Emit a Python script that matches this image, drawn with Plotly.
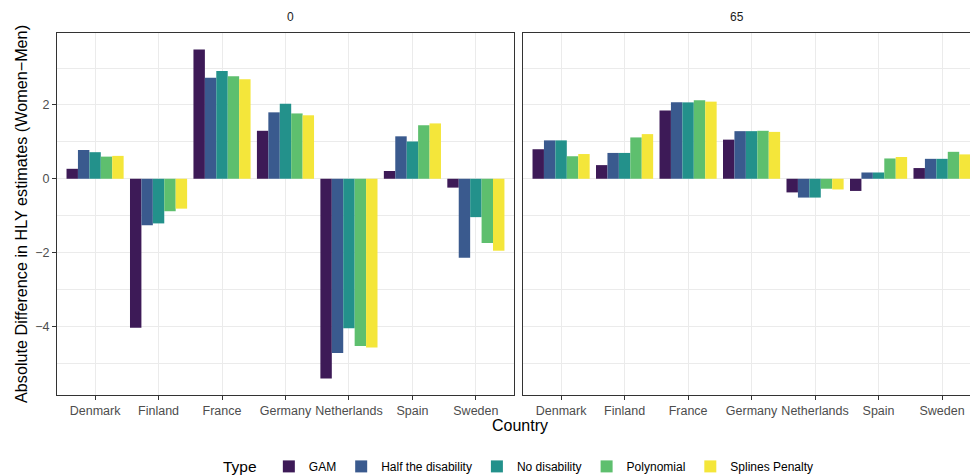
import plotly.graph_objects as go

countries = ["Denmark", "Finland", "France", "Germany", "Netherlands", "Spain", "Sweden"]
types = ["GAM", "Half the disability", "No disability", "Polynomial", "Splines Penalty"]
colors = ["#3D1A57", "#3A5A8E", "#23918B", "#5EBF6E", "#F4E63A"]

# Age 0 differences (Women - Men)
age0_gam = [0.27, -4.04, 3.50, 1.30, -5.41, 0.21, -0.24]
age0_half = [0.78, -1.26, 2.74, 1.80, -4.72, 1.15, -2.14]
age0_nodis = [0.72, -1.21, 2.92, 2.03, -4.05, 1.01, -1.04]
age0_poly = [0.60, -0.88, 2.78, 1.77, -4.53, 1.45, -1.74]
age0_spl = [0.62, -0.81, 2.70, 1.72, -4.57, 1.50, -1.95]

# Age 65 differences (Women - Men)
age65_gam = [0.80, 0.37, 1.85, 1.06, -0.37, -0.33, 0.29]
age65_half = [1.04, 0.70, 2.07, 1.29, -0.51, 0.17, 0.54]
age65_nodis = [1.04, 0.70, 2.07, 1.29, -0.51, 0.17, 0.54]
age65_poly = [0.61, 1.12, 2.13, 1.30, -0.27, 0.55, 0.73]
age65_spl = [0.67, 1.21, 2.09, 1.27, -0.29, 0.59, 0.66]

panels = {
    "0": [age0_gam, age0_half, age0_nodis, age0_poly, age0_spl],
    "65": [age65_gam, age65_half, age65_nodis, age65_poly, age65_spl],
}

FONT = "Liberation Sans, Arial, Helvetica, sans-serif"
fig = go.Figure()

for p, (panel, series) in enumerate(panels.items()):
    xa = "x" if p == 0 else "x2"
    ya = "y" if p == 0 else "y2"
    for name, vals, col in zip(types, series, colors):
        fig.add_trace(go.Bar(
            x=countries, y=vals, name=name, marker=dict(color=col, line=dict(width=0)),
            xaxis=xa, yaxis=ya, showlegend=(p == 0), legendgroup=name,
        ))

grid = "#EBEBEB"
axis_common = dict(
    showgrid=True, gridcolor=grid, gridwidth=1.4, zeroline=False,
    ticks="outside", ticklen=4, tickcolor="#333333", tickwidth=1,
    tickfont=dict(family=FONT, size=12.5, color="#4D4D4D"),
    showline=True, linecolor="#333333", linewidth=1,
)

yrange = [-5.86, 3.95]
fig.update_layout(
    width=970, height=475,
    margin=dict(l=57, r=0, t=33, b=80, autoexpand=False),
    plot_bgcolor="white", paper_bgcolor="white",
    barmode="group", bargap=0.1, bargroupgap=0,
    font=dict(family=FONT),
    xaxis=dict(domain=[0, 0.5005], range=[-0.6, 6.6], mirror=True, **axis_common),
    xaxis2=dict(domain=[0.5104, 1], range=[-0.6, 6.44], mirror=True, anchor="y2", **axis_common),
    yaxis=dict(range=yrange, tickvals=[-4, -2, 0, 2], mirror=True,
               minor=dict(dtick=1, tick0=1, showgrid=True, gridcolor=grid, gridwidth=0.7, ticks=""),
               title=dict(text="Absolute Difference in HLY estimates (Women\u2212Men)",
                          font=dict(family=FONT, size=16.2, color="black"), standoff=3),
               **axis_common),
    yaxis2=dict(range=yrange, tickvals=[-4, -2, 0, 2], showticklabels=False, ticks="",
                anchor="x2", matches="y", mirror=False,
                minor=dict(dtick=1, tick0=1, showgrid=True, gridcolor=grid, gridwidth=0.7, ticks=""),
                **{k: v for k, v in axis_common.items() if k not in ("ticks",)}),
    legend=dict(orientation="h", xref="container", yref="container",
                x=0.536, xanchor="center", y=0.016, yanchor="middle",
                title=dict(text="Type ", font=dict(family=FONT, size=15.5, color="black")),
                font=dict(family=FONT, size=12, color="black"), itemwidth=30,
                traceorder="normal"),
    annotations=[
        dict(text="0", x=0.25025, y=1, xref="paper", yref="paper", yanchor="bottom",
             yshift=7, showarrow=False, font=dict(family=FONT, size=12, color="#1A1A1A")),
        dict(text="65", x=0.7552, y=1, xref="paper", yref="paper", yanchor="bottom",
             yshift=7, showarrow=False, font=dict(family=FONT, size=12, color="#1A1A1A")),
        dict(text="Country", x=0.507, y=0, xref="paper", yref="paper", yanchor="top",
             yshift=-20, showarrow=False, font=dict(family=FONT, size=16, color="black")),
    ],
)

fig.write_html("out.html")
